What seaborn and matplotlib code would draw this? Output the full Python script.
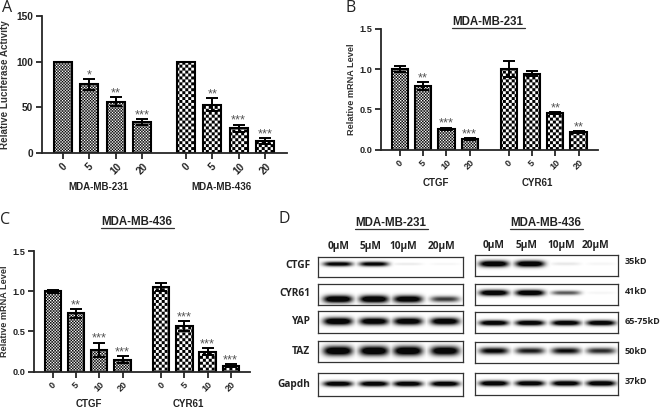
import numpy as np
import pandas as pd
import seaborn as sns
import matplotlib
matplotlib.use("Agg")
import matplotlib.pyplot as plt
import matplotlib.hatch as mhatch
from matplotlib.lines import Line2D
from matplotlib.path import Path

# ---------- data ----------
doses = ["0", "5", "10", "20"]
a_groups = ["MDA-MB-231", "MDA-MB-436"]
a_vals = [100, 75, 56, 34, 100, 53, 27, 13]
a_errs = [0, 6, 5, 3, 0, 7, 4, 3]
a_sig = ["", "*", "**", "***", "", "**", "***", "***"]

mrna_groups = ["CTGF", "CYR61"]
b_vals = [1.0, 0.79, 0.26, 0.135, 1.0, 0.94, 0.455, 0.22]
b_errs = [0.04, 0.05, 0.015, 0.01, 0.10, 0.03, 0.01, 0.01]
b_sig = ["", "**", "***", "***", "", "", "**", "**"]

c_vals = [1.0, 0.725, 0.27, 0.15, 1.05, 0.57, 0.25, 0.075]
c_errs = [0.02, 0.055, 0.09, 0.045, 0.05, 0.06, 0.04, 0.015]
c_sig = ["", "**", "***", "***", "", "***", "***", "***"]

blot_rows = ["CTGF", "CYR61", "YAP", "TAZ", "Gapdh"]
blot_kd = ["35kD", "41kD", "65-75kD", "50kD", "37kD"]
blot_conc = ["0µM", "5µM", "10µM", "20µM"]
blot_left = [[.85, .85, .06, .03], [1, 1, .95, .6], [1, .95, .95, .95], [1, 1, 1, .95], [.95, .95, .95, .95]]
blot_right = [[1, 1, .07, .03], [1, 1, .5, .03], [.95, .95, .95, .95], [.8, .7, .75, .65], [.98, .95, .95, .98]]

W, H = 660, 409


# ---------- checker hatch ('*' = 3 px cells, '**' = 1.5 px cells) ----------
class Checker(mhatch.HatchPatternBase):
    def __init__(self, hatch, density):
        self.n = 34 * hatch.count("*")
        self.cells = [(i, j) for i in range(self.n) for j in range(self.n) if (i + j) % 2 == 0] if self.n else []
        self.num_vertices = len(self.cells) * 5
        self.num_codes = self.num_vertices

    def set_vertices_and_codes(self, vertices, codes):
        s = 1.0 / self.n if self.n else 0
        for k, (i, j) in enumerate(self.cells):
            x, y = i * s, j * s
            vertices[k * 5:k * 5 + 5] = [(x, y), (x + s, y), (x + s, y + s), (x, y + s), (x, y)]
            codes[k * 5:k * 5 + 5] = [Path.MOVETO, Path.LINETO, Path.LINETO, Path.LINETO, Path.CLOSEPOLY]


mhatch._hatch_types = [t for t in mhatch._hatch_types if t is not mhatch.Stars] + [Checker]

sns.set_theme(style="ticks")
plt.rcParams["font.family"] = ["Liberation Sans", "DejaVu Sans"]
plt.rcParams["hatch.linewidth"] = 0.05

fig = plt.figure(figsize=(W / 100, H / 100), dpi=100, facecolor="white")


def add_px_axes(x0, y0, x1, y1):
    return fig.add_axes([x0 / W, 1 - y1 / H, (x1 - x0) / W, (y1 - y0) / H])


def ptext(x, y, s, **kw):
    kw.setdefault("ha", "center")
    kw.setdefault("va", "center")
    return fig.text(x / W, 1 - y / H, s, **kw)


def title(x, y, s, half, uy):
    ptext(x, y, s, fontsize=8.3, fontweight="bold", color="#222222")
    fig.add_artist(Line2D([(x - half) / W, (x + half) / W], [1 - uy / H, 1 - uy / H], color="#333333", lw=0.9))


def bar_panel(box, vals, errs, sig, ylim, yticks, ylabel, groups, lab_y, lab_x, fs, width, ylabel_x, ylabel_fs, label_fs):
    ax = add_px_axes(*box)
    pos = [i + (0 if i < 4 else 0.67) for i in range(8)]
    df = pd.DataFrame({"pos": pos, "value": vals, "group": [0] * 4 + [1] * 4})
    sns.barplot(data=df, x="pos", y="value", hue="group", native_scale=True, dodge=False,
                width=width, palette=["white", "white"], edgecolor="black", linewidth=1.5,
                errorbar=None, legend=False, ax=ax)
    for cont, h in zip(ax.containers, ["**", "*"]):
        for p in cont.patches:
            p.set_hatch(h)
    ax.errorbar(pos, vals, yerr=errs, fmt="none", ecolor="black", elinewidth=1.4, capsize=4.6, capthick=1.4, zorder=5)
    for x, v, e, s in zip(pos, vals, errs, sig):
        if s:
            ax.annotate(s, (x, v + e), xytext=(0, -1.5), textcoords="offset points", ha="center", va="bottom",
                        fontsize=9.3, color="#555555")
    ax.set_xlim(-0.82, 8.5)
    ax.set_ylim(*ylim)
    ax.set_yticks(yticks)
    ax.set_xticks(pos)
    ax.set_xticklabels(doses * 2, rotation=45, ha="center", rotation_mode="default")
    ax.tick_params(axis="both", length=4, width=1.3, labelsize=fs, pad=2, labelcolor="#222222")
    for t in ax.get_xticklabels() + ax.get_yticklabels():
        t.set_fontweight("bold")
    ax.set_xlabel("")
    ax.set_ylabel("")
    sns.despine(ax=ax)
    for sp in ("left", "bottom"):
        ax.spines[sp].set_linewidth(1.3)
    ptext(ylabel_x, (box[1] + box[3]) / 2, ylabel, rotation=90, fontsize=ylabel_fs, fontweight="bold", color="#333333")
    for x, g in zip(lab_x, groups):
        ptext(x, lab_y, g, fontsize=label_fs, fontweight="bold", color="#222222")
    return ax


bar_panel((41.5, 16, 287, 153), a_vals, a_errs, a_sig, (0, 150), [0, 50, 100, 150],
          "Relative Luciferase Activity", a_groups, 187, [98, 222], 7.3, 0.68, 5.5, 7.1, 7.0)
bar_panel((380.7, 28.7, 598, 149.7), b_vals, b_errs, b_sig, (0, 1.5), [0, 0.5, 1.0, 1.5],
          "Relative mRNA Level", mrna_groups, 183, [436, 537], 6.6, 0.70, 351.5, 6.6, 7.0)
bar_panel((34, 251, 250, 371.7), c_vals, c_errs, c_sig, (0, 1.5), [0, 0.5, 1.0, 1.5],
          "Relative mRNA Level", mrna_groups, 404, [89, 188], 6.6, 0.70, 5, 6.6, 7.0)

title(488, 22, "MDA-MB-231", 36.5, 27.5)
title(137, 222, "MDA-MB-436", 36.5, 228)
title(391, 223, "MDA-MB-231", 36.5, 228.5)
title(546, 223, "MDA-MB-436", 36.5, 228.5)

for x, y, s in [(7, 8, "A"), (351, 8, "B"), (5, 220, "C"), (284, 219, "D")]:
    ptext(x, y, s, fontsize=11.5, family="Open Sans", color="#222222")


# ---------- western blots ----------
def blot(box, strengths, centers, row_y, thick):
    ax = add_px_axes(*box)
    w, h = int(round(box[2] - box[0])), int(round(box[3] - box[1]))
    xx, yy = np.meshgrid(np.arange(w) + box[0] + 0.5, np.arange(h) + 0.5)
    img = np.zeros((h, w))
    for s, c in zip(strengths, centers):
        band = s * np.exp(-((xx - c) / 14.5) ** 4 - ((yy - row_y * h) / (thick * (0.5 + 0.5 * s))) ** 2)
        img = np.maximum(img, band)
    img = np.clip(img * 1.35, 0, 1)
    sns.heatmap(img, cmap="gray_r", vmin=0, vmax=1.03, cbar=False, xticklabels=False, yticklabels=False, ax=ax)
    for sp in ax.spines.values():
        sp.set_visible(True)
        sp.set_linewidth(0.9)
        sp.set_color("#333333")


left_boxes = [(318, 257, 463, 277), (318, 284, 463, 305), (318, 311, 463, 333), (318, 341, 463, 362), (318, 373, 463, 396)]
right_boxes = [(475, 255, 618, 276), (475, 284, 618, 305), (475, 312, 618, 333), (475, 342, 618, 363), (475, 373, 618, 395)]
left_row_y = [0.35, 0.72, 0.47, 0.47, 0.47]
right_row_y = [0.42, 0.42, 0.52, 0.42, 0.47]
left_thick = [2.6, 3.8, 3.8, 4.8, 2.8]
right_thick = [3.2, 3.0, 2.8, 3.8, 2.8]
left_centers = [338, 374, 408, 445]
right_centers = [494, 530, 566, 601]
for b, s, r, t in zip(left_boxes, blot_left, left_row_y, left_thick):
    blot(b, s, left_centers, r, t)
for b, s, r, t in zip(right_boxes, blot_right, right_row_y, right_thick):
    blot(b, s, right_centers, r, t)

for x, c in zip([339, 371, 403, 441], blot_conc):
    ptext(x, 246, c, fontsize=7.3, fontweight="bold", family="Open Sans", color="#222222")
for x, c in zip([494, 526, 561, 595], blot_conc):
    ptext(x, 245, c, fontsize=7.3, fontweight="bold", family="Open Sans", color="#222222")
for y, s in zip([265, 294, 322, 351, 384], blot_rows):
    ptext(310, y, s, ha="right", fontsize=7.3, fontweight="bold", family="Open Sans", color="#222222")
for y, s in zip([262, 292, 321, 351, 381], blot_kd):
    ptext(625, y, s, ha="left", fontsize=6.5, fontweight="bold", family="Open Sans", color="#222222")

fig.savefig("out.png", dpi=100, facecolor="white")
